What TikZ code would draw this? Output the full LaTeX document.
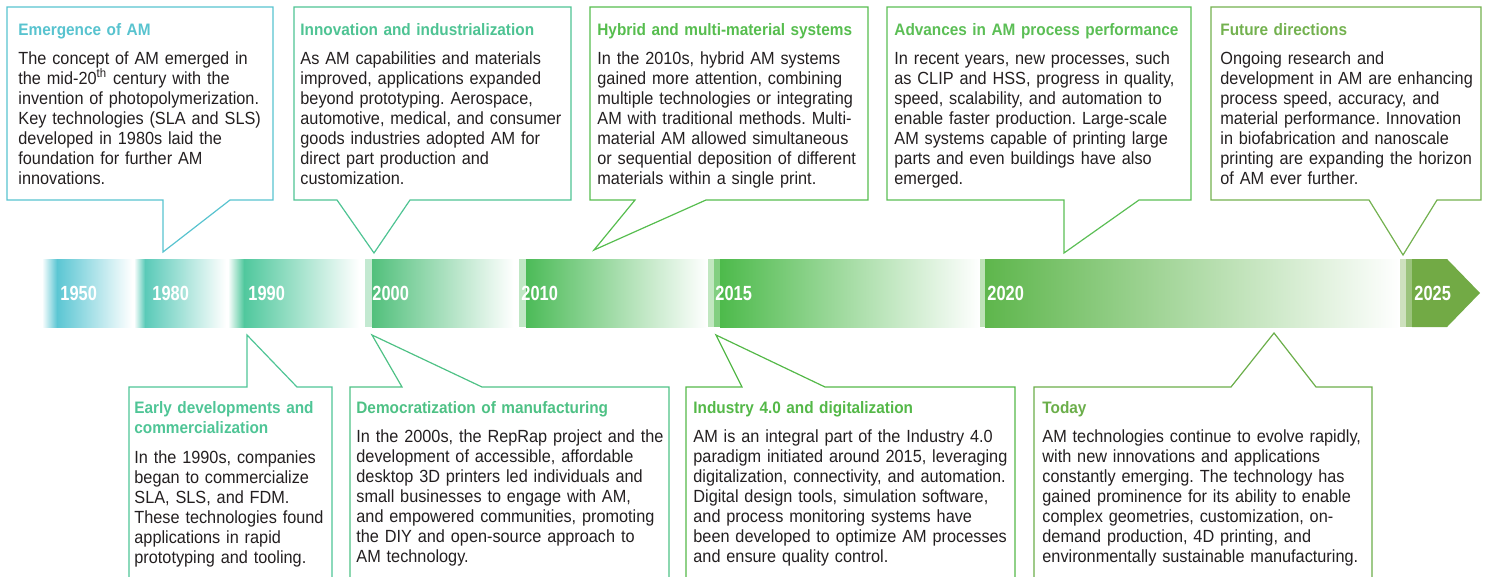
\documentclass[tikz,border=0pt]{standalone}
\usepackage{fontspec}
\setmainfont{Liberation Sans}[FakeStretch=0.925]
\newfontfamily\yearfont{Liberation Sans}[FakeStretch=0.8]
\usepackage{tikz}

% bar colours, one per period
\definecolor{bar1950}{HTML}{5BC6D3}
\definecolor{bar1980}{HTML}{5ACAB8}
\definecolor{bar1990}{HTML}{50C89D}
\definecolor{bar2000}{HTML}{52C07C}
\definecolor{bar2010}{HTML}{4CBB58}
\definecolor{bar2015}{HTML}{4DBA4B}
\definecolor{bar2020}{HTML}{5EB64C}
\definecolor{bar2025}{HTML}{72AA45}
% callout colours
\definecolor{emergence}{HTML}{58C3CF}
\definecolor{innovation}{HTML}{4EC393}
\definecolor{hybrid}{HTML}{56BD4E}
\definecolor{advances}{HTML}{5BBE55}
\definecolor{future}{HTML}{73B14F}
\definecolor{early}{HTML}{4FC596}
\definecolor{democrat}{HTML}{4EC185}
\definecolor{industry}{HTML}{54B848}
\definecolor{today}{HTML}{6BAE4A}
\definecolor{bodytext}{HTML}{231F20}

\begin{document}
\begin{tikzpicture}[x=0.5pt, y=-0.5pt,
    callout/.style={line width=0.6pt, line join=miter},
    heading/.style={anchor=base west, inner sep=0pt, text width=170pt, align=left,
        font=\fontsize{8.3}{10}\selectfont\bfseries},
    blurb/.style={anchor=base west, inner sep=0pt, text width=190pt, align=left,
        text=bodytext, font=\fontsize{8.8}{10}\selectfont\frenchspacing},
    year/.style={anchor=west, inner sep=0pt, text=white,
        font=\yearfont\fontsize{10.25}{12}\selectfont\bfseries}]
    \useasboundingbox (0,0) rectangle (1487,577);

    % Draw the timeline bar, segment by segment
    \shade[left color=white, right color=bar1950] (42,259) rectangle (57,327);
    \shade[left color=bar1950, right color=white] (57,259) rectangle (132,327);
    \shade[left color=white, right color=bar1980] (134,259) rectangle (145,327);
    \shade[left color=bar1980, right color=white] (145,259) rectangle (226,327);
    \shade[left color=white, right color=bar1990] (228,259) rectangle (244,327);
    \shade[left color=bar1990, right color=white] (244,259) rectangle (359,327);
    \fill[bar2000!35] (365,259) rectangle (372,327);
    \shade[left color=bar2000, right color=white] (372,259) rectangle (514,327);
    \fill[bar2010!35] (519,259) rectangle (526,327);
    \shade[left color=bar2010, right color=white] (526,259) rectangle (707,327);
    \fill[bar2015!35] (708,259) rectangle (714,327);
    \fill[bar2015!70] (714,259) rectangle (720,327);
    \shade[left color=bar2015, right color=white] (720,259) rectangle (980,327);
    \fill[bar2020!40] (980,259) rectangle (985,327);
    \shade[left color=bar2020, right color=white] (985,259) rectangle (1400,327);
    \fill[bar2025!35] (1400,259) rectangle (1406,327);
    \fill[bar2025!70] (1406,259) rectangle (1412,327);
    \fill[bar2025] (1412,259) -- (1447,259) -- (1480,293) -- (1447,327) -- (1412,327) -- cycle;

    % Year labels
    \node[year] (y1950) at (60,293) {1950};
    \node[year] (y1980) at (152,293) {1980};
    \node[year] (y1990) at (248,293) {1990};
    \node[year] (y2000) at (372,293) {2000};
    \node[year] (y2010) at (521,293) {2010};
    \node[year] (y2015) at (715,293) {2015};
    \node[year] (y2020) at (987,293) {2020};
    \node[year] (y2025) at (1414,293) {2025};

    % Callouts above the bar
    \draw[callout, emergence] (7,7) -- (273,7) -- (273,200) -- (230,200) -- (163,252)
        -- (163,200) -- (7,200) -- cycle;
    \node[heading, text=emergence] (emergence-title) at (18,36) {Emergence of AM};
    \node[blurb] (emergence-text) at (18,65) {The concept of AM emerged in\\
        the mid-20\smash{\textsuperscript{th}} century with the\\
        invention of photopolymerization.\\
        Key technologies (SLA and SLS)\\
        developed in 1980s laid the\\
        foundation for further AM\\
        innovations.};

    \draw[callout, innovation] (294,7) -- (571,7) -- (571,200) -- (410,200) -- (374,253)
        -- (337,200) -- (294,200) -- cycle;
    \node[heading, text=innovation] (innovation-title) at (300,36) {Innovation and industrialization};
    \node[blurb] (innovation-text) at (300,65) {As AM capabilities and materials\\
        improved, applications expanded\\
        beyond prototyping. Aerospace,\\
        automotive, medical, and consumer\\
        goods industries adopted AM for\\
        direct part production and\\
        customization.};

    \draw[callout, hybrid] (590,7) -- (868,7) -- (868,200) -- (706,200) -- (594,250)
        -- (635,200) -- (590,200) -- cycle;
    \node[heading, text=hybrid] (hybrid-title) at (597,36) {Hybrid and multi-material systems};
    \node[blurb] (hybrid-text) at (597,65) {In the 2010s, hybrid AM systems\\
        gained more attention, combining\\
        multiple technologies or integrating\\
        AM with traditional methods. Multi-\\
        material AM allowed simultaneous\\
        or sequential deposition of different\\
        materials within a single print.};

    \draw[callout, advances] (887,7) -- (1191,7) -- (1191,200) -- (1139,200) -- (1064,253)
        -- (1064,200) -- (887,200) -- cycle;
    \node[heading, text=advances] (advances-title) at (894,36) {Advances in AM process performance};
    \node[blurb] (advances-text) at (894,65) {In recent years, new processes, such\\
        as CLIP and HSS, progress in quality,\\
        speed, scalability, and automation to\\
        enable faster production. Large-scale\\
        AM systems capable of printing large\\
        parts and even buildings have also\\
        emerged.};

    \draw[callout, future] (1211,7) -- (1481,7) -- (1481,200) -- (1437,200) -- (1403,255)
        -- (1369,200) -- (1211,200) -- cycle;
    \node[heading, text=future] (future-title) at (1220,36) {Future directions};
    \node[blurb] (future-text) at (1220,65) {Ongoing research and\\
        development in AM are enhancing\\
        process speed, accuracy, and\\
        material performance. Innovation\\
        in biofabrication and nanoscale\\
        printing are expanding the horizon\\
        of AM ever further.};

    % Callouts below the bar (open at the bottom edge)
    \draw[callout, early] (129,578) -- (129,387) -- (247,387) -- (247,335) -- (297,387)
        -- (332,387) -- (332,578);
    \node[heading, text=early] (early-title) at (134,413) {Early developments and\\ commercialization};
    \node[blurb] (early-text) at (134,463) {In the 1990s, companies\\
        began to commercialize\\
        SLA, SLS, and FDM.\\
        These technologies found\\
        applications in rapid\\
        prototyping and tooling.};

    \draw[callout, democrat] (350,578) -- (350,387) -- (402,387) -- (372,335) -- (482,387)
        -- (669,387) -- (669,578);
    \node[heading, text=democrat] (democrat-title) at (356,413) {Democratization of manufacturing};
    \node[blurb] (democrat-text) at (356,442) {In the 2000s, the RepRap project and the\\
        development of accessible, affordable\\
        desktop 3D printers led individuals and\\
        small businesses to engage with AM,\\
        and empowered communities, promoting\\
        the DIY and open-source approach to\\
        AM technology.};

    \draw[callout, industry] (686,578) -- (686,387) -- (742,387) -- (716,335) -- (825,387)
        -- (1015,387) -- (1015,578);
    \node[heading, text=industry] (industry-title) at (693,413) {Industry 4.0 and digitalization};
    \node[blurb] (industry-text) at (693,442) {AM is an integral part of the Industry 4.0\\
        paradigm initiated around 2015, leveraging\\
        digitalization, connectivity, and automation.\\
        Digital design tools, simulation software,\\
        and process monitoring systems have\\
        been developed to optimize AM processes\\
        and ensure quality control.};

    \draw[callout, today] (1034,578) -- (1034,387) -- (1231,387) -- (1274,333) -- (1316,387)
        -- (1372,387) -- (1372,578);
    \node[heading, text=today] (today-title) at (1042,413) {Today};
    \node[blurb] (today-text) at (1042,442) {AM technologies continue to evolve rapidly,\\
        with new innovations and applications\\
        constantly emerging. The technology has\\
        gained prominence for its ability to enable\\
        complex geometries, customization, on-\\
        demand production, 4D printing, and\\
        environmentally sustainable manufacturing.};
\end{tikzpicture}
\end{document}
